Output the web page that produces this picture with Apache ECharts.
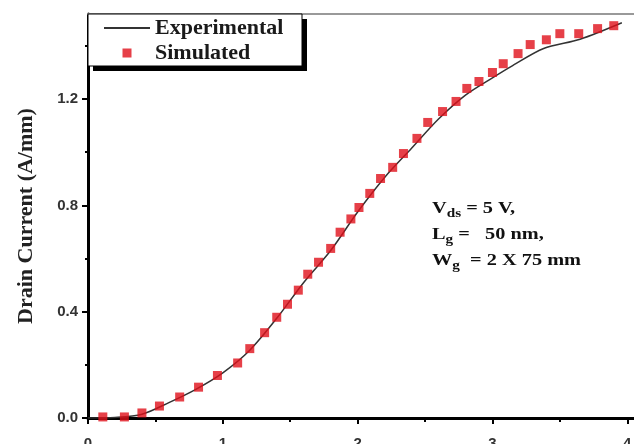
<!DOCTYPE html>
<html>
<head>
<meta charset="utf-8">
<script src="https://cdn.jsdelivr.net/npm/echarts/dist/echarts.min.js"></script>
<style>
  html, body { margin: 0; padding: 0; background: #fff; }
  #main { width: 634px; height: 444px; }
</style>
</head>
<body>
<div id="main"></div>
<script>
// gate voltage (V) vs drain current (A/mm)
const expX = [0, 0.2, 0.4, 0.6, 0.8, 1.0, 1.2, 1.4, 1.6, 1.8, 2.0, 2.2, 2.4, 2.6, 2.8, 3.0, 3.15, 3.38, 3.65, 3.96];
const expY = [0, 0.002, 0.014, 0.058, 0.108, 0.17, 0.255, 0.375, 0.51, 0.63, 0.775, 0.905, 1.015, 1.125, 1.215, 1.28, 1.326, 1.39, 1.425, 1.487];

const simX = [0.11, 0.27, 0.40, 0.53, 0.68, 0.82, 0.96, 1.11, 1.20, 1.31, 1.40, 1.48, 1.56, 1.63, 1.71, 1.80, 1.87, 1.95, 2.01, 2.09, 2.17, 2.26, 2.34, 2.44, 2.52, 2.63, 2.73, 2.81, 2.90, 3.00, 3.08, 3.19, 3.28, 3.40, 3.50, 3.64, 3.78, 3.90];
const simY = [0.004, 0.004, 0.019, 0.045, 0.079, 0.116, 0.160, 0.207, 0.261, 0.321, 0.379, 0.428, 0.481, 0.541, 0.586, 0.638, 0.699, 0.749, 0.792, 0.845, 0.901, 0.943, 0.995, 1.052, 1.112, 1.153, 1.191, 1.240, 1.266, 1.300, 1.333, 1.371, 1.405, 1.423, 1.446, 1.446, 1.465, 1.476];

const xMajor = [0, 1, 2, 3, 4];
const xMinor = [0.5, 1.5, 2.5, 3.5];
const yMajor = [0, 0.4, 0.8, 1.2];
const yMinor = [0.2, 0.6, 1.0, 1.4];

const serif = 'Liberation Serif';
const sans = 'Liberation Sans';

const tickLabel = { fontFamily: sans, fontWeight: 'bold', fontSize: 15, color: '#333' };

const chart = echarts.init(document.getElementById('main'));

let option = {
  animation: false,
  grid: { left: 88, right: 0, top: 14, bottom: 26, outerBoundsMode: 'none', containLabel: false },
  legend: {
    orient: 'vertical',
    left: 98,
    top: 12,
    z: 6,
    itemWidth: 46,
    itemHeight: 9,
    itemGap: 3,
    textStyle: { fontFamily: serif, fontWeight: 'bold', fontSize: 22, lineHeight: 22, color: '#1a1a1a' },
    data: [
      { name: 'Experimental', itemStyle: { opacity: 0 } },
      { name: 'Simulated', icon: 'path://M0 0H10V10H0Z' }
    ]
  },
  xAxis: [
    {
      type: 'value', min: 0, max: 4.05, position: 'bottom',
      axisLine: { lineStyle: { color: '#000', width: 3 } },
      axisTick: { customValues: xMajor, length: 6, lineStyle: { color: '#000', width: 2 } },
      axisLabel: Object.assign({ customValues: xMajor, margin: 18 }, tickLabel),
      splitLine: { show: false }
    },
    {
      type: 'value', min: 0, max: 4.05, position: 'bottom',
      axisLine: { show: false },
      axisTick: { customValues: xMinor, length: 4, lineStyle: { color: '#000', width: 2 } },
      axisLabel: { show: false },
      splitLine: { show: false }
    },
    {
      type: 'value', min: 0, max: 4.05, position: 'top',
      axisLine: { lineStyle: { color: '#999', width: 2 } },
      axisTick: { show: false },
      axisLabel: { show: false },
      splitLine: { show: false }
    }
  ],
  yAxis: [
    {
      type: 'value', min: 0, max: 1.52, position: 'left',
      name: 'Drain Current (A/mm)',
      nameLocation: 'middle',
      nameGap: 51,
      nameTextStyle: { fontFamily: serif, fontWeight: 'bold', fontSize: 22, color: '#222' },
      axisLine: { lineStyle: { color: '#000', width: 3 } },
      axisTick: { customValues: yMajor, length: 6, lineStyle: { color: '#000', width: 2 } },
      axisLabel: Object.assign({ customValues: yMajor, margin: 10, formatter: v => v.toFixed(1) }, tickLabel),
      splitLine: { show: false }
    },
    {
      type: 'value', min: 0, max: 1.52, position: 'left',
      axisLine: { show: false },
      axisTick: { customValues: yMinor, length: 3, lineStyle: { color: '#000', width: 2 } },
      axisLabel: { show: false },
      splitLine: { show: false }
    }
  ],
  graphic: [
    // legend frame with its drop shadow
    { type: 'rect', z: 5, shape: { x: 93, y: 19, width: 214, height: 52 }, style: { fill: '#000' } },
    { type: 'rect', z: 5, shape: { x: 88, y: 14, width: 214, height: 52 }, style: { fill: '#fff', stroke: '#000', lineWidth: 1 } },
    {
      type: 'text', x: 432, y: 196, scaleX: 1.27, z: 5,
      style: {
        text: '{b|V}{s|ds}{b| = 5 V,}\n{b|L}{s|g}{b| =   50 nm,}\n{b|W}{s|g}{b|  = 2 X 75 mm}',
        fill: '#111',
        rich: {
          b: { fontFamily: serif, fontWeight: 'bold', fontSize: 16, lineHeight: 26, fill: '#111' },
          s: { fontFamily: serif, fontWeight: 'bold', fontSize: 12, lineHeight: 26, padding: [10, 0, 0, 0], fill: '#111' }
        }
      }
    }
  ],
  series: [
    {
      name: 'Experimental',
      type: 'line',
      xAxisIndex: 0,
      yAxisIndex: 0,
      data: expX.map((x, i) => [x, expY[i]]),
      symbol: 'none',
      smooth: 0.3,
      lineStyle: { color: '#333', width: 1.5 },
      itemStyle: { color: '#333' },
      z: 2
    },
    {
      name: 'Simulated',
      type: 'scatter',
      xAxisIndex: 0,
      yAxisIndex: 0,
      data: simX.map((x, i) => [x, simY[i]]),
      symbol: 'rect',
      symbolSize: 9,
      itemStyle: { color: '#e0101a' },
      z: 3
    }
  ]
};

chart.setOption(option);
</script>
</body>
</html>
